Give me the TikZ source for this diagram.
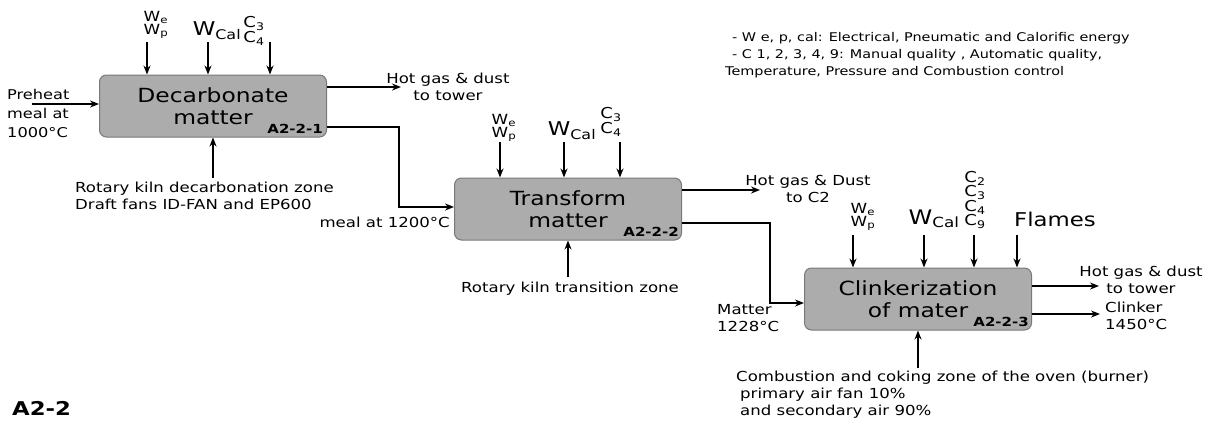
\documentclass[tikz,border=0pt]{standalone}
\usepackage{fontspec}
\setmainfont[FakeStretch=1.2]{DejaVu Sans}
\usetikzlibrary{arrows.meta}

\definecolor{procfill}{RGB}{172,172,172}
\definecolor{procedge}{RGB}{120,120,120}

\tikzset{
  proc/.style={draw=procedge, fill=procfill, line width=1pt, rounded corners=7pt,
    minimum width=227pt, minimum height=62pt, align=center,
    font=\fontsize{19.5}{22}\selectfont},
  tag/.style={anchor=south east, inner sep=0pt, font=\bfseries\fontsize{12.5}{12.5}\selectfont},
  flow/.style={line width=1.7pt, -{Stealth[length=9pt,width=7pt]}},
  txt/.style={inner sep=0pt, font=\fontsize{13.8}{17}\selectfont},
  wsmall/.style={inner sep=0pt, align=left, font=\fontsize{14}{13}\selectfont},
  wcal/.style={inner sep=0pt, font=\fontsize{19}{19}\selectfont},
  cstack/.style={inner sep=0pt, align=center, font=\fontsize{15}{14}\selectfont},
}
\newcommand{\wep}{W\textsubscript{e}\\W\textsubscript{p}}
\newcommand{\wcl}{W\textsubscript{Cal}}

\begin{document}
\begin{tikzpicture}[x=1pt,y=-1pt]
  \useasboundingbox (0,0) rectangle (1210,424);

  % Process boxes
  \node[proc] (dec) at (213,106) {Decarbonate\\matter};
  \node[proc] (trf) at (568,209) {Transform\\matter};
  \node[proc] (clk) at (918,299) {Clinkerization\\of mater};

  % Box tags
  \node[tag] (tag1) at ([xshift=-4pt,yshift=4pt]dec.south east) {A2-2-1};
  \node[tag] (tag2) at ([xshift=-3pt,yshift=4pt]trf.south east) {A2-2-2};
  \node[tag] (tag3) at ([xshift=-3pt,yshift=4pt]clk.south east) {A2-2-3};

  % Energy and control inputs, box 1
  \node[wsmall] (we1) at (156,25) {\wep};
  \node[wcal] (wc1) at (217,31) {\wcl};
  \node[cstack] (c1) at (254,31) {C\textsubscript{3}\\C\textsubscript{4}};
  \coordinate (we1a) at (147,42);
  \coordinate (wc1a) at (208,42);
  \coordinate (c1a) at (270,42);
  \draw[flow] (we1a) -- (we1a |- dec.north);
  \draw[flow] (wc1a) -- (wc1a |- dec.north);
  \draw[flow] (c1a) -- (c1a |- dec.north);

  % Energy and control inputs, box 2
  \node[wsmall] (we2) at (504,128) {\wep};
  \node[wcal] (wc2) at (572,131) {\wcl};
  \node[cstack] (c2) at (611,122) {C\textsubscript{3}\\C\textsubscript{4}};
  \coordinate (we2a) at (500,142);
  \coordinate (wc2a) at (564,142);
  \coordinate (c2a) at (620,142);
  \draw[flow] (we2a) -- (we2a |- trf.north);
  \draw[flow] (wc2a) -- (wc2a |- trf.north);
  \draw[flow] (c2a) -- (c2a |- trf.north);

  % Energy and control inputs, box 3
  \node[wsmall] (we3) at (863,217) {\wep};
  \node[wcal, font=\fontsize{20}{20}\selectfont] (wc3) at (934,219) {\wcl};
  \node[cstack] (c3) at (975,200) {C\textsubscript{2}\\C\textsubscript{3}\\C\textsubscript{4}\\C\textsubscript{9}};
  \node[inner sep=0pt, font=\fontsize{19}{19}\selectfont] (flm) at (1055,219) {Flames};
  \coordinate (we3a) at (853,235);
  \coordinate (wc3a) at (924,235);
  \coordinate (c3a) at (974,235);
  \coordinate (flma) at (1017,235);
  \draw[flow] (we3a) -- (we3a |- clk.north);
  \draw[flow] (wc3a) -- (wc3a |- clk.north);
  \draw[flow] (c3a) -- (c3a |- clk.north);
  \draw[flow] (flma) -- (flma |- clk.north);

  % Feed in
  \node[txt, anchor=west, align=left, font=\fontsize{13.5}{19}\selectfont] (pre) at (7,113) {Preheat\\meal at\\1000°C};
  \coordinate (prea) at (32,104);
  \draw[flow] (prea) -- (prea -| dec.west);

  % Zones below
  \node[txt, anchor=west, align=left] (rk1) at (75,196) {Rotary kiln decarbonation zone\\Draft fans ID-FAN and EP600};
  \node[txt] (rk2) at (570,289) {Rotary kiln transition zone};
  \node[txt, anchor=west, align=left] (cmb) at (736,395) {Combustion and coking zone of the oven (burner)\\\hspace{4pt}primary air fan 10\%\\\hspace{4pt}and secondary air 90\%};
  \draw[flow] (dec.south |- rk1.north) ++(0,-4) -- (dec.south);
  \draw[flow] (trf.south |- rk2.north) ++(0,-5) -- (trf.south);
  \draw[flow] (clk.south |- cmb.north) ++(0,-3) -- (clk.south);

  % Outputs
  \node[txt, align=center] (hot1) at (448,87) {Hot gas \& dust\\to tower};
  \node[txt, align=center] (hot2) at (808,189) {Hot gas \& Dust\\to C2};
  \node[txt, align=center] (hot3) at (1141,280) {Hot gas \& dust\\to tower};
  \node[txt, anchor=west, align=left] (clkr) at (1105,316) {Clinker\\1450°C};
  \coordinate (hot1a) at (401,87);
  \coordinate (hot2a) at (760,190);
  \coordinate (hot3a) at (1099,286);
  \coordinate (clkra) at (1100,314);
  \draw[flow] (hot1a -| dec.east) -- (hot1a);
  \draw[flow] (hot2a -| trf.east) -- (hot2a);
  \draw[flow] (hot3a -| clk.east) -- (hot3a);
  \draw[flow] (clkra -| clk.east) -- (clkra);

  % Matter between boxes
  \node[txt, anchor=east] (meal) at (450,222) {meal at 1200°C};
  \node[txt, anchor=west, align=left] (mat) at (717,318) {Matter\\1228°C};
  \draw[flow] ([yshift=-21pt]dec.east) -- ++(72,0) |- ([yshift=2pt]trf.west);
  \draw[flow] ([yshift=-14pt]trf.east) -- ++(88,0) |- ([yshift=-4pt]clk.west);

  % Legend
  \node[inner sep=0pt, anchor=west, align=left, font=\fontsize{12}{17}\selectfont] (leg) at (725,55)
    {\hspace{7pt}- W e, p, cal: Electrical, Pneumatic and Calorific energy\\
     \hspace{7pt}- C 1, 2, 3, 4, 9: Manual quality , Automatic quality,\\
     Temperature, Pressure and Combustion control};

  % Diagram id
  \node[inner sep=0pt, anchor=west, font=\bfseries\fontsize{19}{19}\selectfont] (id) at (12,408) {A2-2};

\end{tikzpicture}
\end{document}
